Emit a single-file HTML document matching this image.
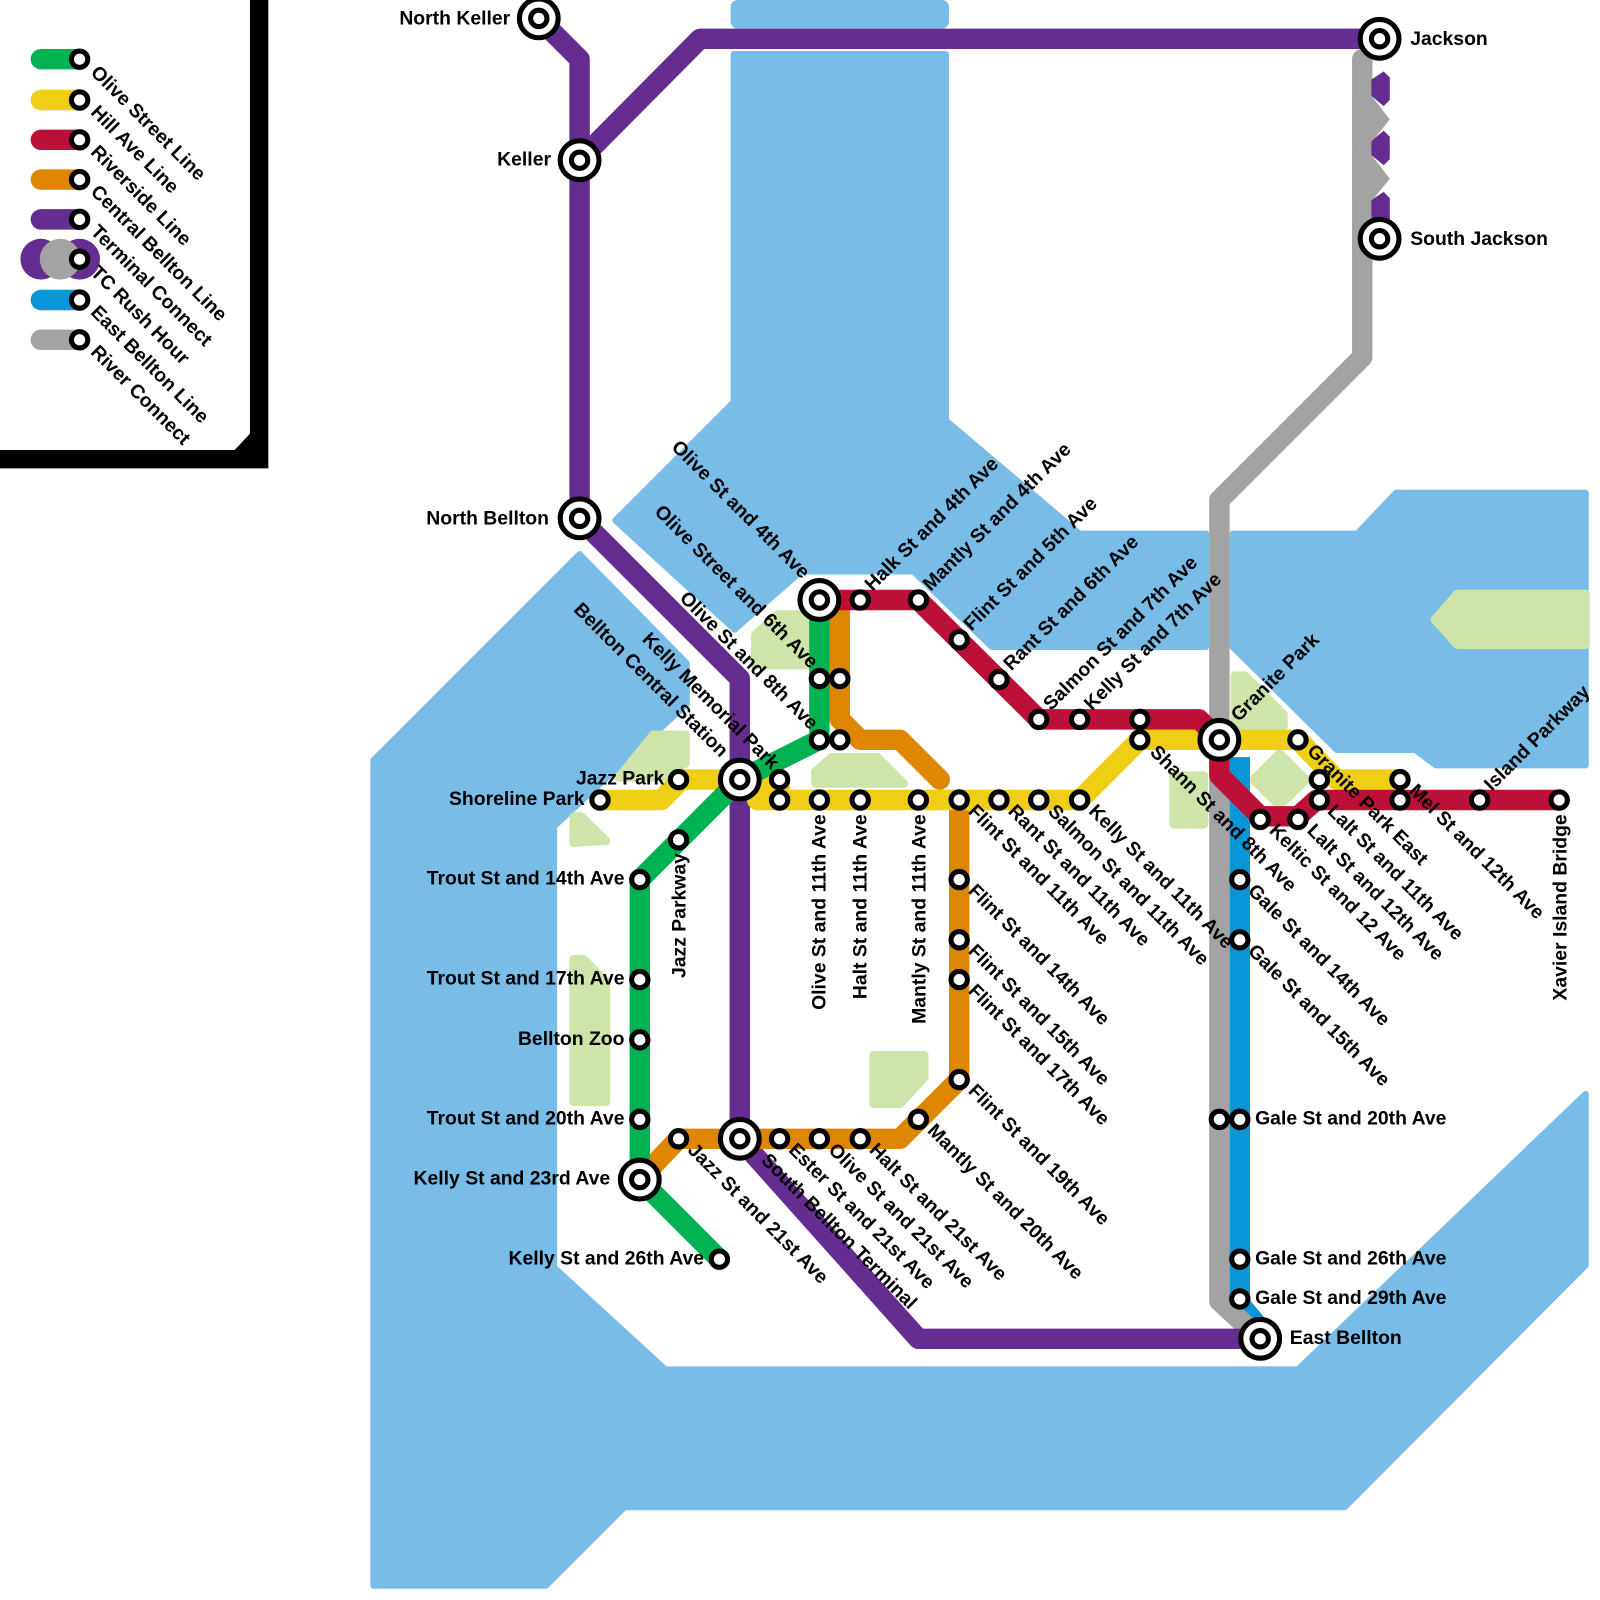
<!DOCTYPE html>
<html><head><meta charset="utf-8"><style>
html,body{margin:0;padding:0;background:#fff;}
svg{display:block;}
text{font-family:"Liberation Sans",sans-serif;font-weight:bold;font-size:19px;fill:#000;}
</style></head><body>
<svg width="1600" height="1600" viewBox="0 0 1568 1568" xmlns="http://www.w3.org/2000/svg">
<rect width="1568" height="1568" fill="#fff"/>
<!-- water -->
<g fill="#79bce7" stroke="#79bce7" stroke-width="6" stroke-linejoin="round">
<rect x="719" y="3" width="208" height="22" rx="4"/>
<polygon points="719,53 927,53 927,412 1058,523 1182,523 1182,634 972,634 895,560 785,560 720,617 603,510 719,394"/>
<polygon points="366,745 568,543 673,650 673,690 545,808 543,810 543,1242 652,1342 1272,1342 1554,1072 1554,1240 1318,1477 612,1477 535,1554 366,1554"/>
<polygon points="1208,523 1330,523 1368,483 1554,483 1554,750 1407,750 1387,735 1310,735 1208,634"/>
</g>
<!-- parks -->
<g fill="#cfe4a8" stroke="#cfe4a8" stroke-width="8" stroke-linejoin="round">
<polygon points="762,602 798,602 798,652 740,652 740,622"/>
<polygon points="640,720 672,720 672,748 652,762 606,762"/>
<polygon points="815,742 860,742 886,768 799,768 799,756"/>
<polygon points="562,800 570,800 594,824 562,826"/>
<polygon points="562,940 572,940 594,962 594,1080 562,1080"/>
<polygon points="856,1034 906,1034 906,1056 882,1082 856,1082"/>
<polygon points="1150,760 1180,760 1180,808 1150,808"/>
<polygon points="1210,662 1220,662 1258,700 1258,712 1210,712"/>
<polygon points="1254,738 1280,764 1254,790 1228,764"/>
<polygon points="1428,582 1554,582 1554,632 1428,632 1406,607"/>
</g>
<!-- lines -->
<g fill="none" stroke-width="20" stroke-linejoin="round" stroke-linecap="round">
<path d="M1215,742 V1278 L1235,1302" stroke="#0a96d6" stroke-linecap="butt"/>
<path d="M1335,58 V350 L1195,490 V1275 L1222,1300" stroke="#a3a3a3"/>
<path d="M528,18 L568,58 V508 L725,665 V1116 L900,1312 H1235" stroke="#652d90" stroke-linecap="butt"/>
<path d="M568,157 L686,38 H1352" stroke="#652d90" stroke-linecap="butt"/>
<path d="M823,600 V705 L843,725 H882 L921,764" stroke="#df8600"/>
<path d="M940,795 V1058 L882,1116 H665 L627,1156" stroke="#df8600"/>
<path d="M588,784 H648 L668,764 H764 V784 M742,784 H1058 L1117,725 H1272 L1310,764 H1372" stroke="#f0ce15"/>
<path d="M803,588 H900 L1018,705 H1175 L1195,725 V760 L1235,800 H1272 L1290,784 H1528" stroke="#bd1038"/>
<path d="M803,588 V725 L725,764 L627,862 V1156 L705,1234" stroke="#00b251"/>
</g>
<!-- terminal connect -->
<g fill="#652d90">
<polygon points="1344,78 1356,70 1362,76 1362,98 1356,104 1344,94"/>
<polygon points="1344,138 1356,128 1362,134 1362,156 1356,162 1344,152"/>
<polygon points="1344,196 1356,188 1362,194 1362,216 1344,216"/>
</g>
<g fill="#a3a3a3">
<polygon points="1325,95 1345,95 1362,117 1345,138 1325,138"/>
<polygon points="1325,153 1345,153 1362,175 1345,196 1325,196"/>
</g>
<!-- small stations -->
<g fill="#fff" stroke="#000" stroke-width="5">
<circle cx="665" cy="764" r="8"/><circle cx="588" cy="784" r="8"/><circle cx="665" cy="823" r="8"/>
<circle cx="764" cy="764" r="8"/><circle cx="764" cy="784" r="8"/>
<circle cx="803" cy="665" r="8"/><circle cx="823" cy="665" r="8"/><circle cx="803" cy="725" r="8"/><circle cx="823" cy="725" r="8"/>
<circle cx="843" cy="588" r="8"/><circle cx="900" cy="588" r="8"/><circle cx="940" cy="627" r="8"/><circle cx="979" cy="666" r="8"/><circle cx="1018" cy="705" r="8"/><circle cx="1058" cy="705" r="8"/><circle cx="1117" cy="705" r="8"/><circle cx="1117" cy="725" r="8"/>
<circle cx="803" cy="784" r="8"/><circle cx="843" cy="784" r="8"/><circle cx="900" cy="784" r="8"/><circle cx="940" cy="784" r="8"/><circle cx="979" cy="784" r="8"/><circle cx="1018" cy="784" r="8"/><circle cx="1058" cy="784" r="8"/>
<circle cx="1272" cy="725" r="8"/><circle cx="1293" cy="764" r="8"/><circle cx="1293" cy="784" r="8"/><circle cx="1372" cy="764" r="8"/><circle cx="1372" cy="784" r="8"/><circle cx="1450" cy="784" r="8"/><circle cx="1528" cy="784" r="8"/>
<circle cx="1235" cy="803" r="8"/><circle cx="1272" cy="803" r="8"/>
<circle cx="1215" cy="862" r="8"/><circle cx="1215" cy="921" r="8"/><circle cx="1195" cy="1097" r="8"/><circle cx="1215" cy="1097" r="8"/><circle cx="1215" cy="1234" r="8"/><circle cx="1215" cy="1273" r="8"/>
<circle cx="940" cy="862" r="8"/><circle cx="940" cy="921" r="8"/><circle cx="940" cy="960" r="8"/><circle cx="940" cy="1058" r="8"/><circle cx="900" cy="1097" r="8"/>
<circle cx="843" cy="1116" r="8"/><circle cx="803" cy="1116" r="8"/><circle cx="764" cy="1116" r="8"/><circle cx="665" cy="1116" r="8"/>
<circle cx="627" cy="862" r="8"/><circle cx="627" cy="960" r="8"/><circle cx="627" cy="1019" r="8"/><circle cx="627" cy="1097" r="8"/><circle cx="705" cy="1234" r="8"/>
</g>
<!-- big stations -->
<g fill="#fff" stroke="#000" stroke-width="5">
<circle cx="528" cy="18" r="19"/><circle cx="528" cy="18" r="8"/>
<circle cx="568" cy="157" r="19"/><circle cx="568" cy="157" r="8"/>
<circle cx="568" cy="508" r="19"/><circle cx="568" cy="508" r="8"/>
<circle cx="1352" cy="38" r="19"/><circle cx="1352" cy="38" r="8"/>
<circle cx="1352" cy="234" r="19"/><circle cx="1352" cy="234" r="8"/>
<circle cx="803" cy="588" r="19"/><circle cx="803" cy="588" r="8"/>
<circle cx="725" cy="764" r="19"/><circle cx="725" cy="764" r="8"/>
<circle cx="1195" cy="725" r="19"/><circle cx="1195" cy="725" r="8"/>
<circle cx="725" cy="1116" r="19"/><circle cx="725" cy="1116" r="8"/>
<circle cx="627" cy="1156" r="19"/><circle cx="627" cy="1156" r="8"/>
<circle cx="1235" cy="1312" r="19"/><circle cx="1235" cy="1312" r="8"/>
</g>
<!-- legend -->
<path d="M254,0 V450 H0" fill="none" stroke="#000" stroke-width="18"/>
<polygon points="245,441 245,425 230,441" fill="#000"/>
<g stroke-width="20" stroke-linecap="round">
<line x1="40" y1="58" x2="78" y2="58" stroke="#00b251"/>
<line x1="40" y1="98" x2="78" y2="98" stroke="#f0ce15"/>
<line x1="40" y1="137" x2="78" y2="137" stroke="#bd1038"/>
<line x1="40" y1="176" x2="78" y2="176" stroke="#df8600"/>
<line x1="40" y1="215" x2="78" y2="215" stroke="#652d90"/>
<line x1="40" y1="294" x2="78" y2="294" stroke="#0a96d6"/>
<line x1="40" y1="333" x2="78" y2="333" stroke="#a3a3a3"/>
</g>
<circle cx="40" cy="254" r="20" fill="#652d90"/><circle cx="78" cy="254" r="20" fill="#652d90"/><circle cx="59" cy="254" r="20" fill="#a3a3a3"/>
<g fill="#fff" stroke="#000" stroke-width="5">
<circle cx="78" cy="58" r="8"/><circle cx="78" cy="98" r="8"/><circle cx="78" cy="137" r="8"/><circle cx="78" cy="176" r="8"/><circle cx="78" cy="215" r="8"/><circle cx="78" cy="254" r="8"/><circle cx="78" cy="294" r="8"/><circle cx="78" cy="333" r="8"/>
</g>
<g>
<text transform="translate(88,72) rotate(45)">Olive Street Line</text>
<text transform="translate(88,111) rotate(45)">Hill Ave Line</text>
<text transform="translate(88,150) rotate(45)">Riverside Line</text>
<text transform="translate(88,189) rotate(45)">Central Bellton Line</text>
<text transform="translate(88,228) rotate(45)">Terminal Connect</text>
<text transform="translate(88,268) rotate(45)">TC Rush Hour</text>
<text transform="translate(88,307) rotate(45)">East Bellton Line</text>
<text transform="translate(88,346) rotate(45)">River Connect</text>
</g>
<!-- horizontal labels -->
<g text-anchor="end">
<text x="500" y="24">North Keller</text>
<text x="540" y="162">Keller</text>
<text x="538" y="514">North Bellton</text>
<text x="651" y="769">Jazz Park</text>
<text x="573" y="789">Shoreline Park</text>
<text x="612" y="867">Trout St and 14th Ave</text>
<text x="612" y="965">Trout St and 17th Ave</text>
<text x="612" y="1024">Bellton Zoo</text>
<text x="612" y="1102">Trout St and 20th Ave</text>
<text x="598" y="1161">Kelly St and 23rd Ave</text>
<text x="690" y="1239">Kelly St and 26th Ave</text>
</g>
<text x="1382" y="44">Jackson</text>
<text x="1382" y="240">South Jackson</text>
<text x="1230" y="1102">Gale St and 20th Ave</text>
<text x="1230" y="1239">Gale St and 26th Ave</text>
<text x="1230" y="1278">Gale St and 29th Ave</text>
<text x="1264" y="1317">East Bellton</text>
<!-- vertical labels -->
<g text-anchor="end">
<text transform="translate(809,798) rotate(-90)">Olive St and 11th Ave</text>
<text transform="translate(849,798) rotate(-90)">Halt St and 11th Ave</text>
<text transform="translate(907,798) rotate(-90)">Mantly St and 11th Ave</text>
<text transform="translate(672,836) rotate(-90)">Jazz Parkway</text>
<text transform="translate(1535,798) rotate(-90)">Xavier Island Bridge</text>
</g>
<g text-anchor="end">
<text transform="translate(786,568) rotate(45)">Olive St and 4th Ave</text>
<text transform="translate(794,656) rotate(45)">Olive Street and 6th Ave</text>
<text transform="translate(794,716) rotate(45)">Olive St and 8th Ave</text>
<text transform="translate(756,755) rotate(45)">Kelly Memorial Park</text>
<text transform="translate(706,743) rotate(45)">Bellton Central Station</text>
</g>
<g>
<text transform="translate(855,580) rotate(-45)">Halk St and 4th Ave</text>
<text transform="translate(912,580) rotate(-45)">Mantly St and 4th Ave</text>
<text transform="translate(952,619) rotate(-45)">Flint St and 5th Ave</text>
<text transform="translate(991,658) rotate(-45)">Rant St and 6th Ave</text>
<text transform="translate(1030,697) rotate(-45)">Salmon St and 7th Ave</text>
<text transform="translate(1070,697) rotate(-45)">Kelly St and 7th Ave</text>
<text transform="translate(1214,708) rotate(-45)">Granite Park</text>
<text transform="translate(1462,776) rotate(-45)">Island Parkway</text>
</g>
<g>
<text transform="translate(1126,738) rotate(45)">Shann St and 8th Ave</text>
<text transform="translate(1066,796) rotate(45)">Kelly St and 11th Ave</text>
<text transform="translate(1026,796) rotate(45)">Salmon St and 11th Ave</text>
<text transform="translate(987,796) rotate(45)">Rant St and 11th Ave</text>
<text transform="translate(948,796) rotate(45)">Flint St and 11th Ave</text>
<text transform="translate(948,874) rotate(45)">Flint St and 14th Ave</text>
<text transform="translate(948,933) rotate(45)">Flint St and 15th Ave</text>
<text transform="translate(948,972) rotate(45)">Flint St and 17th Ave</text>
<text transform="translate(948,1070) rotate(45)">Flint St and 19th Ave</text>
<text transform="translate(908,1109) rotate(45)">Mantly St and 20th Ave</text>
<text transform="translate(851,1128) rotate(45)">Halt St and 21st Ave</text>
<text transform="translate(811,1128) rotate(45)">Olive St and 21st Ave</text>
<text transform="translate(772,1128) rotate(45)">Ester St and 21st Ave</text>
<text transform="translate(745,1138) rotate(45)">South Bellton Terminal</text>
<text transform="translate(673,1128) rotate(45)">Jazz St and 21st Ave</text>
<text transform="translate(1243,815) rotate(45)">Keltic St and 12 Ave</text>
<text transform="translate(1280,815) rotate(45)">Lalt St and 12th Ave</text>
<text transform="translate(1300,796) rotate(45)">Lalt St and 11th Ave</text>
<text transform="translate(1280,737) rotate(45)">Granite Park East</text>
<text transform="translate(1380,776) rotate(45)">Mel St and 12th Ave</text>
<text transform="translate(1222,874) rotate(45)">Gale St and 14th Ave</text>
<text transform="translate(1222,933) rotate(45)">Gale St and 15th Ave</text>
</g>
</svg>
</body></html>
